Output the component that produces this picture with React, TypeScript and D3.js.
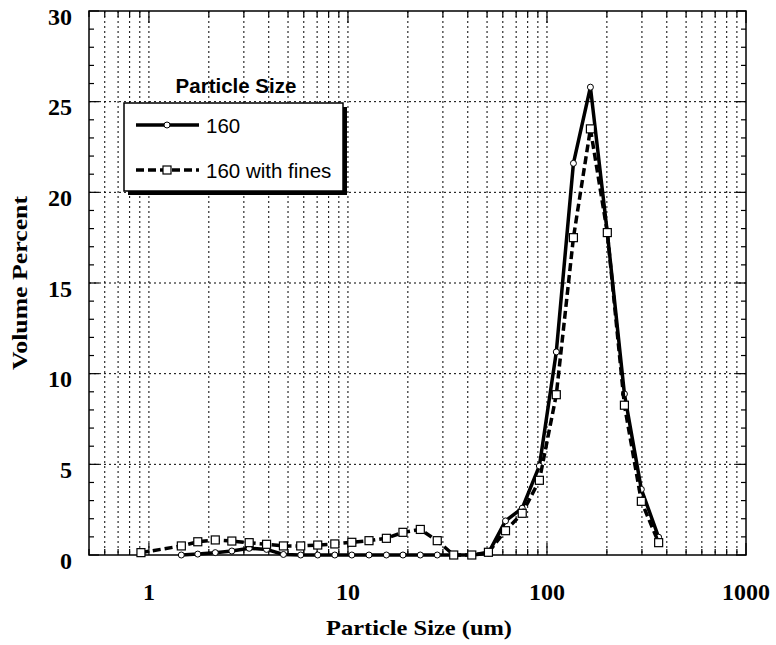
import * as d3 from 'd3';

// particle size bins (um)
const sizes = [0.912, 1.455, 1.76, 2.155, 2.61, 3.19, 3.9, 4.74, 5.79, 7.05, 8.59, 10.46, 12.76, 15.6, 18.9, 23.1, 28.1, 34.0, 41.9, 50.8, 61.9, 75.1, 91.6, 111.4, 135.8, 165.3, 201, 245, 298, 364];

// volume percent, "160" (circles) - first bin not plotted
const plain: (number | null)[] = [null, 0, 0.05, 0.13, 0.22, 0.37, 0.31, 0.03, 0, 0, 0, 0, 0, 0, 0, 0, 0, 0, 0, 0.1, 1.88, 2.58, 4.91, 11.2, 21.6, 25.8, 17.78, 8.88, 3.62, 0.98];

// volume percent, "160 with fines" (squares)
const fines: (number | null)[] = [0.13, 0.5, 0.73, 0.83, 0.77, 0.68, 0.59, 0.5, 0.5, 0.55, 0.61, 0.7, 0.79, 0.92, 1.25, 1.41, 0.79, 0, 0, 0.15, 1.34, 2.3, 4.12, 8.84, 17.5, 23.5, 17.78, 8.26, 2.96, 0.68];

const xTickLabels = [1, 10, 100, 1000];
const yTickLabels = [0, 5, 10, 15, 20, 25, 30];
const legendTitle = 'Particle Size';
const seriesNames = ['160', '160 with fines'];

const W = 776;
const H = 645;
const left = 89, right = 746, top = 11, bottom = 555;

const serif = '"Liberation Serif", "Times New Roman", serif';
const sans = '"Liberation Sans", Arial, sans-serif';

export default function App() {
  const x = d3.scaleLog().domain([0.5, 1000]).range([left, right]);
  const y = d3.scaleLinear().domain([0, 30]).range([bottom, top]);

  // vertical grid at every log minor step
  const xGrid: number[] = [];
  [0.1, 1, 10, 100].forEach(dec => {
    for (let k = 1; k <= 9; k++) {
      const v = dec * k;
      if (v >= 0.5 && v <= 1000) xGrid.push(v);
    }
  });
  xGrid.push(1000);
  const yMinor = d3.range(0, 31, 1);

  type Pt = { x: number; y: number };
  const toPts = (vals: (number | null)[]): Pt[] =>
    sizes.map((s, i) => ({ x: s, y: vals[i] as number })).filter((d, i) => vals[i] !== null);

  const plainPts = toPts(plain);
  const finesPts = toPts(fines);

  const line = d3.line<Pt>().x(d => x(d.x)).y(d => y(d.y));

  return (
    <svg width={W} height={H} style={{ position: 'absolute', left: 0, top: 0, background: '#fff' }}>
      <rect x={0} y={0} width={W} height={H} fill="#fff" />

      {/* grid */}
      <g stroke="#000" strokeWidth={1} strokeDasharray="2,3">
        {xGrid.filter(v => v > 0.5 && v < 1000).map(v => (
          <line key={'gx' + v} x1={x(v)} x2={x(v)} y1={top} y2={bottom} />
        ))}
        {yTickLabels.filter(v => v > 0 && v < 30).map(v => (
          <line key={'gy' + v} x1={left} x2={right} y1={y(v)} y2={y(v)} />
        ))}
      </g>

      {/* ticks, inside */}
      <g stroke="#000" strokeWidth={1.2}>
        {xGrid.map(v => {
          const len = xTickLabels.includes(v) ? 12 : 6;
          return (
            <g key={'tx' + v}>
              <line x1={x(v)} x2={x(v)} y1={bottom} y2={bottom - len} />
              <line x1={x(v)} x2={x(v)} y1={top} y2={top + len} />
            </g>
          );
        })}
        {yMinor.map(v => {
          const len = v % 5 === 0 ? 10 : 5;
          return (
            <g key={'ty' + v}>
              <line x1={left} x2={left + len} y1={y(v)} y2={y(v)} />
              <line x1={right} x2={right - len} y1={y(v)} y2={y(v)} />
            </g>
          );
        })}
      </g>

      {/* frame */}
      <rect x={left} y={top} width={right - left} height={bottom - top} fill="none" stroke="#000" strokeWidth={1.5} />

      {/* series: 160 */}
      <path d={line(plainPts) || ''} fill="none" stroke="#000" strokeWidth={3.5} strokeLinejoin="round" />
      {plainPts.map((d, i) => (
        <circle key={'c' + i} cx={x(d.x)} cy={y(d.y)} r={3} fill="#fff" stroke="#000" strokeWidth={1} />
      ))}

      {/* series: 160 with fines */}
      <path d={line(finesPts) || ''} fill="none" stroke="#000" strokeWidth={3.5} strokeDasharray="8,4" />
      {finesPts.map((d, i) => (
        <rect key={'s' + i} x={x(d.x) - 4} y={y(d.y) - 4} width={8} height={8} fill="#fff" stroke="#000" strokeWidth={1.2} />
      ))}

      {/* tick labels */}
      <g fontFamily={serif} fontWeight="bold" fontSize={24} fill="#000">
        {xTickLabels.map(v => (
          <text key={'lx' + v} x={x(v)} y={600} textAnchor="middle">{v}</text>
        ))}
        {yTickLabels.map(v => (
          <text key={'ly' + v} x={72} y={y(v) + 13.5} textAnchor="end">{v}</text>
        ))}
      </g>

      {/* axis titles */}
      <text x={419} y={635} textAnchor="middle" fontFamily={serif} fontWeight="bold" fontSize={22}
        textLength={186} lengthAdjust="spacingAndGlyphs">
        Particle Size (um)
      </text>
      <text transform={`translate(27, 283) rotate(-90)`} textAnchor="middle" fontFamily={serif} fontWeight="bold" fontSize={22}
        textLength={174} lengthAdjust="spacingAndGlyphs">
        Volume Percent
      </text>

      {/* legend */}
      <g>
        <text x={236} y={93} textAnchor="middle" fontFamily={sans} fontWeight="bold" fontSize={20.5}>{legendTitle}</text>
        <rect x={128} y={107} width={219} height={88} fill="#000" />
        <rect x={124} y={103} width={219} height={88} fill="#fff" stroke="#000" strokeWidth={1.5} />
        <line x1={136} x2={199} y1={125} y2={125} stroke="#000" strokeWidth={3.5} />
        <circle cx={167} cy={125} r={3} fill="#fff" stroke="#000" strokeWidth={1} />
        <text x={206} y={133} fontFamily={sans} fontSize={20.5}>{seriesNames[0]}</text>
        <line x1={136} x2={199} y1={170} y2={170} stroke="#000" strokeWidth={3.5} strokeDasharray="8,4" />
        <rect x={163} y={166} width={8} height={8} fill="#fff" stroke="#000" strokeWidth={1.2} />
        <text x={206} y={178} fontFamily={sans} fontSize={20.5}>{seriesNames[1]}</text>
      </g>
    </svg>
  );
}
